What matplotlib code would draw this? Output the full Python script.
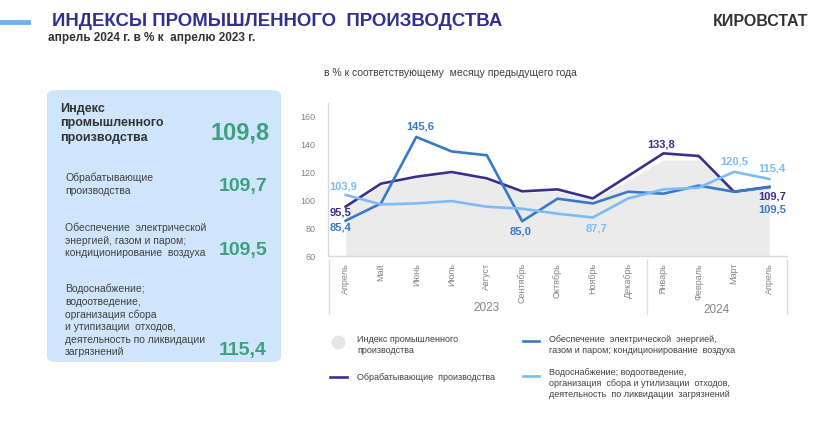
import matplotlib.pyplot as plt
from matplotlib.patches import FancyBboxPatch
from matplotlib.lines import Line2D

plt.rcParams['font.family'] = ['Liberation Sans', 'DejaVu Sans']

months = ['Апрель', 'Май', 'Июнь', 'Июль', 'Август', 'Сентябрь', 'Октябрь',
          'Ноябрь', 'Декабрь', 'Январь', 'Февраль', 'Март', 'Апрель']
index_total = [95.0, 110.5, 116.0, 119.5, 114.5, 105.5, 106.5, 100.5, 114.5, 129.0, 129.0, 106.5, 109.8]
manufacturing = [95.5, 112.0, 117.0, 120.4, 115.8, 106.5, 107.9, 101.4, 117.5, 133.8, 131.9, 106.2, 109.7]
electricity = [85.4, 97.8, 145.6, 135.2, 132.4, 85.0, 101.2, 97.8, 106.2, 104.8, 110.6, 106.2, 109.5]
water = [103.9, 97.1, 97.8, 99.5, 95.4, 94.0, 90.4, 87.7, 101.4, 107.9, 109.1, 120.5, 115.4]

# labelled points: (month index, text, offset in px)
labels_manuf = [(0, '95,5', -5, -6), (9, '133,8', -2, 9), (12, '109,7', 3, -10)]
labels_elec = [(0, '85,4', -5, -7), (2, '145,6', 4, 10), (5, '85,0', -2, -10), (12, '109,5', 3, -22)]
labels_water = [(0, '103,9', -3, 8), (7, '87,7', 4, -11), (11, '120,5', 0, 10), (12, '115,4', 3, 10)]

panel_names = ['Обрабатывающие\nпроизводства',
               'Обеспечение  электрической\nэнергией, газом и паром;\nкондиционирование  воздуха',
               'Водоснабжение;\nводоотведение,\nорганизация сбора\nи утипизации  отходов,\nдеятельность по ликвидации\nзагрязнений']
panel_values = ['109,7', '109,5', '115,4']

c_total = '#EBEBEB'
c_manuf = '#3A2F8E'
c_elec = '#3A78C8'
c_water = '#7DBBF7'
c_green = '#3DA07F'
c_text = '#404040'
c_gray = '#858585'

W, H = 832, 432
fig = plt.figure(figsize=(W / 100, H / 100), dpi=100)


def fx(px):
    return px / W


def fy(py):
    return 1 - py / H


# header
fig.add_artist(Line2D([0, fx(28)], [fy(22), fy(22)], color='#6FB0F5', lw=3.5))
fig.text(fx(52), fy(22), 'ИНДЕКСЫ ПРОМЫШЛЕННОГО  ПРОИЗВОДСТВА', fontsize=13.4, fontweight='bold',
         color='#2E3192', va='center')
fig.text(fx(48), fy(38), 'апрель 2024 г. в % к  апрелю 2023 г.', fontsize=8.5, fontweight='bold',
         color='#333333', va='center')
fig.text(fx(808), fy(21), 'КИРОВСТАТ', fontsize=11.5, fontweight='bold', color='#333333',
         va='center', ha='right')
fig.text(fx(450), fy(73), 'в % к соответствующему  месяцу предыдущего года', fontsize=7.5,
         color=c_text, va='center', ha='center')

# left panel
box = FancyBboxPatch((fx(47), fy(362)), fx(281) - fx(47), fy(90) - fy(362),
                     boxstyle='round,pad=0,rounding_size=0.012', transform=fig.transFigure,
                     facecolor='#CFE5FB', edgecolor='none')
fig.add_artist(box)
fig.text(fx(60), fy(103), 'Индекс\nпромышленного\nпроизводства', fontsize=9, fontweight='bold',
         color='#333333', va='top', linespacing=1.25)
fig.text(fx(270), fy(133), '109,8', fontsize=17, fontweight='bold', color=c_green,
         va='center', ha='right')
name_tops = [173, 223, 284]
value_ys = [187, 250, 350]
for name, val, ty, vy in zip(panel_names, panel_values, name_tops, value_ys):
    fig.text(fx(65), fy(ty), name, fontsize=7.5, color=c_text, va='top', linespacing=1.3)
    fig.text(fx(267), fy(vy), val, fontsize=14, fontweight='bold', color=c_green,
             va='center', ha='right')

# chart
ax = fig.add_axes([fx(328), fy(256), fx(787) - fx(328), fy(103) - fy(256)])
x = list(range(len(months)))
ax.fill_between(x, 60, index_total, color=c_total, lw=0)
ax.plot(x, manufacturing, color=c_manuf, lw=1.9)
ax.plot(x, electricity, color=c_elec, lw=1.9)
ax.plot(x, water, color=c_water, lw=1.9)

for series, labels, col in [(manufacturing, labels_manuf, c_manuf),
                            (electricity, labels_elec, c_elec),
                            (water, labels_water, c_water)]:
    for i, txt, dx, dy in labels:
        ax.annotate(txt, (i, series[i]), xytext=(dx * 0.72, dy * 0.72), textcoords='offset points',
                    ha='center', va='center', fontsize=8, fontweight='bold', color=col)

ax.set_xlim(-0.5, 12.5)
ax.set_ylim(60, 170)
ax.set_yticks([60, 80, 100, 120, 140, 160])
ax.set_xticks(x)
ax.set_xticklabels(months, rotation=90, fontsize=6.5, color=c_gray)
ax.tick_params(axis='both', length=0, labelsize=6.5, labelcolor=c_gray)
ax.tick_params(axis='x', pad=5)
ax.tick_params(axis='y', pad=9)
for s in ['top', 'right']:
    ax.spines[s].set_visible(False)
for s in ['left', 'bottom']:
    ax.spines[s].set_color('#D9D9D9')
    ax.spines[s].set_linewidth(1)

# year separators
for px in [329, 647, 787]:
    fig.add_artist(Line2D([fx(px), fx(px)], [fy(260), fy(314)], color='#DDDDDD', lw=1))
fig.text(fx(487), fy(308), '2023', fontsize=8.5, color=c_gray, ha='center', va='center')
fig.text(fx(717), fy(310), '2024', fontsize=8.5, color=c_gray, ha='center', va='center')

# legend
fig.add_artist(Line2D([fx(338)], [fy(342)], marker='o', markersize=10, color='#E6E6E6',
                      markeredgewidth=0))
fig.text(fx(357), fy(345), 'Индекс промышленного\nпроизводства', fontsize=6.5, color=c_text,
         va='center', linespacing=1.3)
fig.add_artist(Line2D([fx(330), fx(347)], [fy(377), fy(377)], color=c_manuf, lw=1.9))
fig.text(fx(357), fy(377), 'Обрабатывающие  производства', fontsize=6.5, color=c_text, va='center')
fig.add_artist(Line2D([fx(523), fx(539)], [fy(341), fy(341)], color=c_elec, lw=1.9))
fig.text(fx(549), fy(345), 'Обеспечение  электрической  энергией,\nгазом и паром; кондиционирование  воздуха',
         fontsize=6.5, color=c_text, va='center', linespacing=1.3)
fig.add_artist(Line2D([fx(523), fx(539)], [fy(376), fy(376)], color=c_water, lw=1.9))
fig.text(fx(549), fy(383.5), 'Водоснабжение; водоотведение,\nорганизация  сбора и утилизации  отходов,\n'
         'деятельность  по ликвидации  загрязнений', fontsize=6.5, color=c_text, va='center',
         linespacing=1.3)

fig.savefig('out.png', dpi=100)
